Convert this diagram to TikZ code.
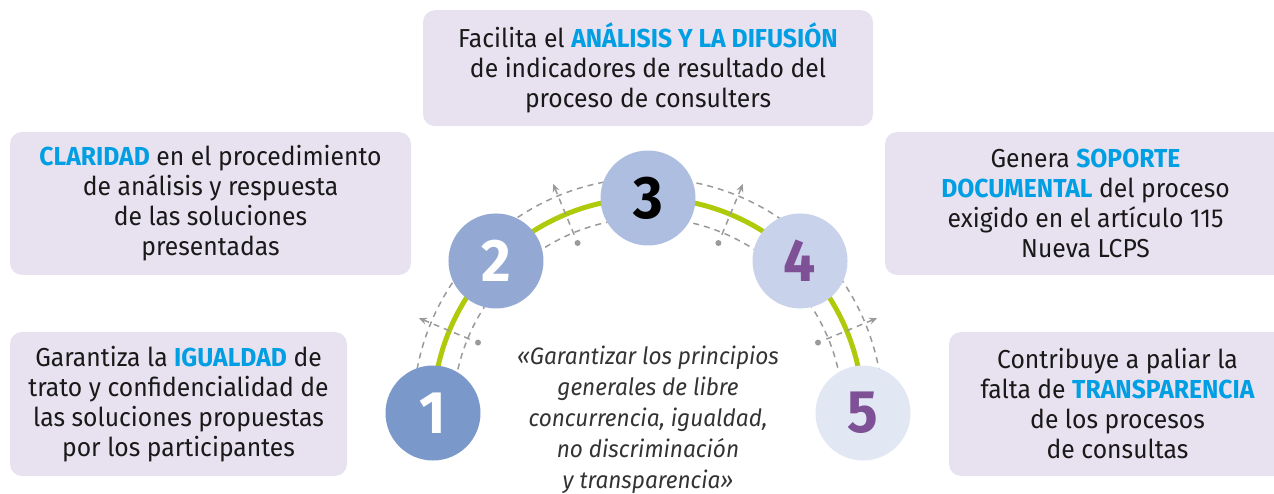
\documentclass[tikz,border=0pt]{standalone}
\usepackage{fontspec}
\setmainfont{Fira Sans}[FakeStretch=0.95]
\usetikzlibrary{positioning,calc,arrows.meta}

\definecolor{fondocaja}{HTML}{E8E2F0}
\definecolor{resalte}{HTML}{009FE3}
\definecolor{verdearco}{HTML}{AFCA0B}
\definecolor{lila}{HTML}{7E5096}
\definecolor{rayas}{HTML}{9A9A9A}
\definecolor{cuno}{HTML}{7B98CB}
\definecolor{cdos}{HTML}{93A9D4}
\definecolor{ctres}{HTML}{AEBEE0}
\definecolor{ccuatro}{HTML}{C9D2EB}
\definecolor{ccinco}{HTML}{E2E7F4}
\newcommand{\rs}[1]{\textcolor{resalte}{\bfseries #1}}

\begin{document}
\begin{tikzpicture}[x=0.5pt,y=0.5pt,
		cuadro/.style={fill=fondocaja, rounded corners=6pt, align=center, inner sep=0pt,
			text=black!90, font=\fontsize{13}{15}\selectfont},
		num/.style={circle, minimum size=47.5pt, inner sep=0pt,
			font=\fontsize{30}{30}\selectfont\bfseries},
		guia/.style={rayas, line width=0.75pt, dash pattern=on 3pt off 2.5pt}]
	\useasboundingbox (0,0) rectangle (1274,493);
	\clip (0,0) rectangle (1274,493);
	\coordinate (centro) at (648,80);
	% arcos
	\draw[guia] ($(centro)+(-235,0)$) arc[start angle=180, end angle=0, radius=235];
	\draw[guia] ($(centro)+(-195,0)$) arc[start angle=180, end angle=0, radius=195];
	\draw[verdearco, line width=2.5pt] ($(centro)+(-215,0)$) arc[start angle=180, end angle=0, radius=215];
	% marcas entre los circulos
	\foreach \m/\ang in {a/157.5, b/112.5, c/67.5, d/22.5}{
		\coordinate (ini\m) at ($(centro)+(\ang:193)$);
		\coordinate (fin\m) at ($(centro)+(\ang:248)$);
		\fill[rayas] ($(centro)+(\ang:184)$) circle[radius=3];
		\draw[guia, -{Stealth[length=4pt,width=3.5pt]}] (ini\m) -- (fin\m);
	}
	% circulos
	\foreach \n/\ang/\fondo/\tinta in {1/180/cuno/white, 2/135/cdos/white, 3/90/ctres/black, 4/45/ccuatro/lila, 5/0/ccinco/lila}
		\node[num, fill=\fondo, text=\tinta] (c\n) at ($(centro)+(\ang:215)$) {\n};
	% cuadros
	\node[cuadro, minimum width=225pt, minimum height=58pt, above=11.75pt of c3] (analisis)
		{Facilita el \rs{ANÁLISIS Y LA DIFUSIÓN}\\de indicadores de resultado del\\proceso de consulters};
	\node[cuadro, minimum width=200.5pt, minimum height=71.5pt] (claridad) at (210.5,289.5)
		{\rs{CLARIDAD} en el procedimiento\\de análisis y respuesta\\de las soluciones\\presentadas};
	\node[cuadro, minimum width=168.5pt, minimum height=72pt] (igualdad) at (178.5,89)
		{Garantiza la \rs{IGUALDAD} de\\trato y confidencialidad de\\las soluciones propuestas\\por los participantes};
	\node[cuadro, minimum width=200.5pt, minimum height=71.5pt] (soporte) at (1085.5,289.5)
		{Genera \rs{SOPORTE}\\\rs{DOCUMENTAL} del proceso\\exigido en el artículo 115\\Nueva LCPS};
	\node[cuadro, minimum width=168.5pt, minimum height=72pt] (transparencia) at (1117.5,89)
		{Contribuye a paliar la\\falta de \rs{TRANSPARENCIA}\\de los procesos\\de consultas};
	% cita
	\node[align=center, text=black!80, font=\fontsize{11.9}{15.5}\selectfont\itshape] (cita)
		at ($(centro)+(0,-7)$)
		{«Garantizar los principios\\generales de libre\\concurrencia, igualdad,\\no discriminación\\y transparencia»};
\end{tikzpicture}
\end{document}
